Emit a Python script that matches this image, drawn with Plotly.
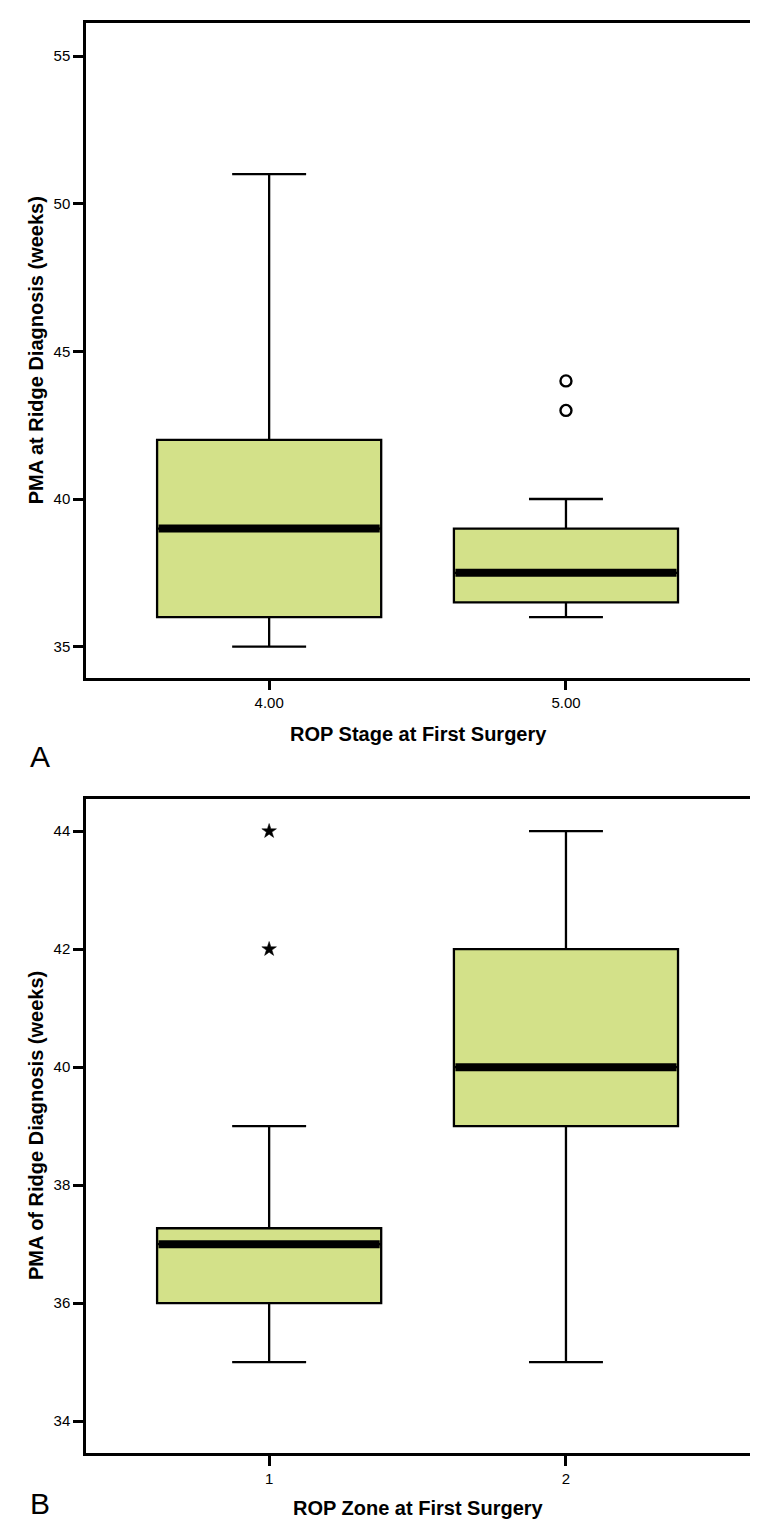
import plotly.graph_objects as go

# ---------------- Data ----------------
# Panel A: PMA at ridge diagnosis by ROP stage at first surgery
stage_labels = ["4.00", "5.00"]
stage_lower = [35, 36]
stage_q1 = [36, 36.5]
stage_median = [39, 37.5]
stage_q3 = [42, 39]
stage_upper = [51, 40]
stage_outlier_group = [1, 1]
stage_outliers = [44, 43]

# Panel B: PMA of ridge diagnosis by ROP zone at first surgery
zone_labels = ["1", "2"]
zone_lower = [35, 35]
zone_q1 = [36, 39]
zone_median = [37, 40]
zone_q3 = [37.27, 42]
zone_upper = [39, 44]
zone_outlier_group = [0, 0]
zone_outliers = [44, 42]

stage_ticks = [35, 40, 45, 50, 55]
zone_ticks = [34, 36, 38, 40, 42, 44]

# ---------------- Style ----------------
FILL = "#D3E189"
BOX_W = 0.755
FONT = "Liberation Sans, Arial, sans-serif"

fig = go.Figure()


def add_panel(labels, lower, q1, med, q3, upper, out_g, out_v, out_symbol, xa, ya):
    pos = list(range(len(labels)))
    fig.add_trace(go.Box(
        x=pos, q1=q1, median=med, q3=q3, lowerfence=lower, upperfence=upper,
        width=BOX_W, whiskerwidth=0.33, fillcolor=FILL,
        line=dict(color="black", width=2.3), boxpoints=False,
        xaxis=xa, yaxis=ya, showlegend=False, hoverinfo="skip"))
    for p, m in zip(pos, med):
        fig.add_trace(go.Scatter(
            x=[p - BOX_W / 2 + 0.005, p + BOX_W / 2 - 0.005], y=[m, m], mode="lines",
            line=dict(color="black", width=8), xaxis=xa, yaxis=ya,
            showlegend=False, hoverinfo="skip"))
    if out_symbol == "circle-open":
        marker = dict(symbol="circle-open", size=11, color="black", line=dict(width=2.4, color="black"))
    else:
        marker = dict(symbol="star", size=11, color="black", line=dict(width=0.5, color="black"))
    fig.add_trace(go.Scatter(
        x=out_g, y=out_v, mode="markers", marker=marker,
        xaxis=xa, yaxis=ya, showlegend=False, hoverinfo="skip"))


add_panel(stage_labels, stage_lower, stage_q1, stage_median, stage_q3, stage_upper,
          stage_outlier_group, stage_outliers, "circle-open", "x", "y")
add_panel(zone_labels, zone_lower, zone_q1, zone_median, zone_q3, zone_upper,
          zone_outlier_group, zone_outliers, "star", "x2", "y2")

axis_common = dict(showline=True, mirror=True, linecolor="black", linewidth=2.5,
                   ticks="outside", ticklen=10, tickwidth=2.5, tickcolor="black",
                   showgrid=False, zeroline=False,
                   tickfont=dict(family=FONT, size=15, color="black"))

fig.update_layout(
    width=758, height=1522,
    margin=dict(l=78, r=16, t=12, b=77),
    paper_bgcolor="white", plot_bgcolor="white",
    xaxis=dict(axis_common, domain=[0, 1], range=[-0.617, 1.62], anchor="y",
               tickvals=[0, 1], ticktext=stage_labels),
    yaxis=dict(axis_common, domain=[0.5422, 1], range=[33.95, 56.12], anchor="x",
               tickvals=stage_ticks),
    xaxis2=dict(axis_common, domain=[0, 1], range=[-0.617, 1.62], anchor="y2",
                tickvals=[0, 1], ticktext=zone_labels),
    yaxis2=dict(axis_common, domain=[0, 0.4571], range=[33.46, 44.54], anchor="x2",
                tickvals=zone_ticks),
)

title_font = dict(family=FONT, size=20, color="black")
ann = [
    dict(text="<b>PMA at Ridge Diagnosis (weeks)</b>", x=-0.0753, y=0.7711, textangle=-90),
    dict(text="<b>ROP Stage at First Surgery</b>", x=0.5, y=0.5031),
    dict(text="<b>PMA of Ridge Diagnosis (weeks)</b>", x=-0.0753, y=0.2286, textangle=-90),
    dict(text="<b>ROP Zone at First Surgery</b>", x=0.5, y=-0.0384),
]
for a in ann:
    fig.add_annotation(xref="paper", yref="paper", showarrow=False,
                       xanchor="center", yanchor="middle", font=title_font, **a)

for letter, yy in (("A", 0.4871), ("B", -0.0356)):
    fig.add_annotation(text=letter, xref="paper", yref="paper", x=-0.069, y=yy,
                       showarrow=False, xanchor="center", yanchor="middle",
                       font=dict(family=FONT, size=30, color="black"))

fig.write_html("out.html")
